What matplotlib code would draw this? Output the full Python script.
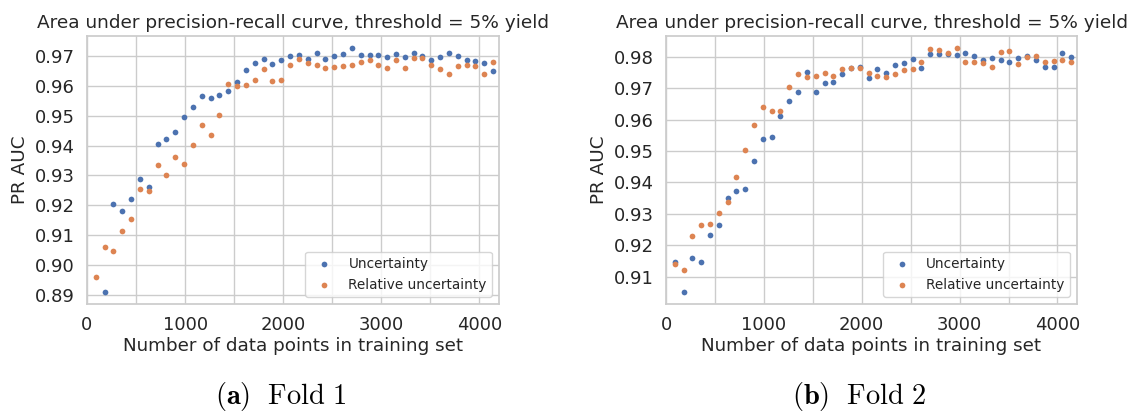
import numpy as np
import matplotlib
matplotlib.use("Agg")
import matplotlib.pyplot as plt
import seaborn as sns
from matplotlib.ticker import MultipleLocator

sns.set_style("whitegrid")
plt.rcParams["font.family"] = ["DejaVu Sans"]

# training set sizes
n_train = [90, 180, 270, 360, 450, 540, 630, 720, 810, 900,
           990, 1080, 1170, 1260, 1350, 1440, 1530, 1620, 1710, 1800,
           1890, 1980, 2070, 2160, 2250, 2340, 2430, 2520, 2610, 2700,
           2790, 2880, 2970, 3060, 3150, 3240, 3330, 3420, 3510, 3600,
           3690, 3780, 3870, 3960, 4050, 4140]

# Fold 1
fold1_unc = [np.nan, 0.8910, 0.9203, 0.9180, 0.9220, 0.9287, 0.9261, 0.9404, 0.9422, 0.9445,
             0.9494, 0.9529, 0.9567, 0.9558, 0.9568, 0.9584, 0.9612, 0.9653, 0.9678, 0.9690,
             0.9674, 0.9685, 0.9699, 0.9704, 0.9691, 0.9711, 0.9690, 0.9699, 0.9706, 0.9726,
             0.9702, 0.9704, 0.9704, 0.9698, 0.9707, 0.9698, 0.9709, 0.9699, 0.9688, 0.9696,
             0.9711, 0.9700, 0.9688, 0.9683, 0.9677, 0.9649]
fold1_rel = [0.8961, 0.9060, 0.9048, 0.9113, 0.9155, 0.9255, 0.9249, 0.9335, 0.9302, 0.9361,
             0.9338, 0.9401, 0.9469, 0.9435, 0.9501, 0.9607, 0.9599, 0.9603, 0.9618, 0.9655,
             0.9616, 0.9621, 0.9669, 0.9690, 0.9678, 0.9671, 0.9661, 0.9662, 0.9665, 0.9670,
             0.9681, 0.9685, 0.9668, 0.9660, 0.9687, 0.9660, 0.9693, 0.9694, 0.9670, 0.9656,
             0.9641, 0.9666, 0.9668, 0.9666, 0.9640, 0.9679]

# Fold 2
fold2_unc = [0.9146, 0.9052, 0.9158, 0.9148, 0.9233, 0.9266, 0.9349, 0.9372, 0.9378, 0.9469,
             0.9539, 0.9545, 0.9611, 0.9658, 0.9689, 0.9751, 0.9689, 0.9716, 0.9718, 0.9745,
             0.9764, 0.9766, 0.9732, 0.9760, 0.9749, 0.9775, 0.9780, 0.9792, 0.9765, 0.9808,
             0.9807, 0.9808, 0.9804, 0.9813, 0.9802, 0.9789, 0.9797, 0.9788, 0.9782, 0.9797,
             0.9802, 0.9789, 0.9767, 0.9767, 0.9811, 0.9799]
fold2_rel = [0.9139, 0.9122, 0.9231, 0.9266, 0.9268, 0.9304, 0.9339, 0.9416, 0.9503, 0.9583,
             0.9640, 0.9628, 0.9628, 0.9704, 0.9745, 0.9735, 0.9740, 0.9748, 0.9737, 0.9762,
             0.9765, 0.9765, 0.9748, 0.9740, 0.9736, 0.9746, 0.9759, 0.9760, 0.9782, 0.9825,
             0.9822, 0.9813, 0.9827, 0.9782, 0.9782, 0.9781, 0.9767, 0.9814, 0.9817, 0.9777,
             0.9800, 0.9803, 0.9782, 0.9786, 0.9789, 0.9782]

folds = [(fold1_unc, fold1_rel, r"$\mathbf{(a)}\ \ \mathrm{Fold\ 1}$"),
         (fold2_unc, fold2_rel, r"$\mathbf{(b)}\ \ \mathrm{Fold\ 2}$")]

blue = "#4C72B0"
orange = "#DD8452"
txt = "#262626"

fig = plt.figure(figsize=(11.31, 4.12), dpi=100)
ax_pos = [[87 / 1131, 1 - 304 / 412, 412 / 1131, 268 / 412],
          [666 / 1131, 1 - 304 / 412, 411 / 1131, 268 / 412]]
cap_x = [281 / 1131, 859 / 1131]

for i, (unc, rel, cap) in enumerate(folds):
    ax = fig.add_axes(ax_pos[i])
    ax.scatter(n_train, unc, s=17, color=blue, linewidth=0, label="Uncertainty")
    ax.scatter(n_train, rel, s=17, color=orange, linewidth=0, label="Relative uncertainty")
    ax.set_xlim(0, 4200)
    ax.xaxis.set_major_locator(MultipleLocator(1000))
    ax.xaxis.set_minor_locator(MultipleLocator(500))
    ax.yaxis.set_major_locator(MultipleLocator(0.01))
    ax.grid(True, which="both", color="#cccccc", linewidth=1)
    ax.tick_params(which="both", length=0, labelsize=13, colors=txt, pad=9)
    for sp in ax.spines.values():
        sp.set_color("#cccccc")
        sp.set_linewidth(1.25)
    ax.set_title("Area under precision-recall curve, threshold = 5% yield",
                 fontsize=13.3, color=txt, pad=6)
    ax.set_xlabel("Number of data points in training set", fontsize=13.2, color=txt, labelpad=2)
    ax.set_ylabel("PR AUC", fontsize=13.2, color=txt, labelpad=4)
    leg = ax.legend(loc="lower right", fontsize=9.8, scatterpoints=1, frameon=True)
    leg.get_frame().set_edgecolor("#cccccc")
    for t in leg.get_texts():
        t.set_color(txt)
    fig.text(cap_x[i], 1 - 404 / 412, cap, ha="center", va="baseline",
             fontsize=20.5, math_fontfamily="cm", color="black")

plt.savefig("out.png", dpi=100)
